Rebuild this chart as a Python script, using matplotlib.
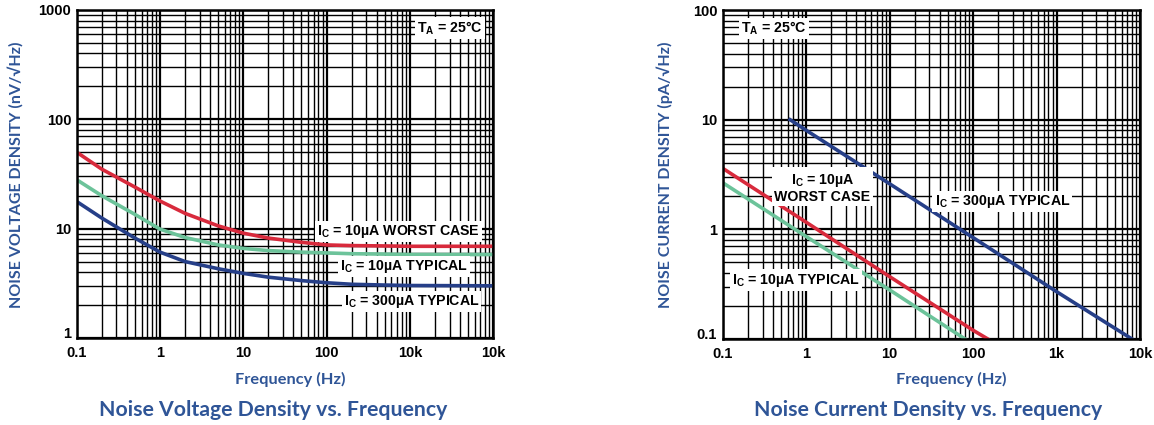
import matplotlib
matplotlib.use("Agg")
import matplotlib.pyplot as plt
import matplotlib.transforms as mtransforms
from matplotlib.ticker import FixedLocator, NullFormatter, LogLocator

plt.rcParams["mathtext.fontset"] = "custom"
plt.rcParams["mathtext.rm"] = "Liberation Sans:bold"
plt.rcParams["mathtext.it"] = "Liberation Sans:bold"
plt.rcParams["mathtext.bf"] = "Liberation Sans:bold"

# noise voltage density (nV/rtHz)
v_freq = [0.1, 0.2, 0.5, 1, 2, 5, 10, 20, 50, 100, 200, 500, 1000, 10000]
v_worst = [50, 35, 24, 17.9, 13.8, 10.6, 9.1, 8.2, 7.5, 7.1, 7.0, 6.95, 6.9, 6.9]
v_typ = [28, 20, 13.5, 9.9, 8.3, 7.1, 6.6, 6.3, 6.1, 6.0, 5.9, 5.85, 5.8, 5.8]
v_300 = [17.7, 12.5, 8.2, 6.1, 5.0, 4.3, 3.9, 3.6, 3.35, 3.2, 3.1, 3.05, 3.02, 3.0]

# noise current density (pA/rtHz)
i_freq_10 = [0.1, 1, 10, 100, 150]
i_worst = [3.6, 1.16, 0.37, 0.12, 0.1]
i_freq_typ = [0.1, 1, 10, 80]
i_typ = [2.66, 0.86, 0.28, 0.1]
i_freq_300 = [0.64, 1, 10, 100, 1000, 8000]
i_300 = [10, 8.0, 2.6, 0.84, 0.27, 0.1]

x_ticks = [0.1, 1, 10, 100, 1000, 10000]
x_labels_v = ["0.1", "1", "10", "100", "10k", "10k"]
x_labels_i = ["0.1", "1", "10", "100", "1k", "10k"]
y_ticks_v = [1, 10, 100, 1000]
y_labels_v = ["1", "10", "100", "1000"]
y_ticks_i = [0.1, 1, 10, 100]
y_labels_i = ["0.1", "1", "10", "100"]

RED = "#d82a3c"
GREEN = "#6cc39a"
BLUE = "#263f88"
TXT = "#2f5597"
tick_font = dict(family="Liberation Sans", weight="bold", size=10.5)
box = dict(facecolor="white", edgecolor="none", pad=1.5)


def setup(ax, ylim, yticks, ylabels, xlabels):
    ax.set_xscale("log")
    ax.set_yscale("log")
    ax.set_xlim(0.1, 10000)
    ax.set_ylim(*ylim)
    ax.xaxis.set_major_locator(FixedLocator(x_ticks))
    ax.yaxis.set_major_locator(FixedLocator(yticks))
    ax.xaxis.set_minor_locator(LogLocator(base=10, subs=range(2, 10), numticks=20))
    ax.yaxis.set_minor_locator(LogLocator(base=10, subs=range(2, 10), numticks=20))
    ax.xaxis.set_minor_formatter(NullFormatter())
    ax.yaxis.set_minor_formatter(NullFormatter())
    ax.set_xticklabels(xlabels, fontdict=tick_font)
    ax.set_yticklabels(ylabels, fontdict=tick_font)
    ax.tick_params(axis="x", which="both", length=0, pad=6)
    ax.tick_params(axis="y", which="both", length=0, pad=4)
    ax.grid(True, which="major", color="black", linewidth=1.6)
    ax.grid(True, which="minor", color="black", linewidth=1.0)
    for s in ax.spines.values():
        s.set_linewidth(1.8)
    ax.set_axisbelow(True)
    # bottom y label sits a little above the corner, as in the datasheet
    lbl = ax.get_yticklabels()[0]
    lbl.set_transform(lbl.get_transform()
                      + mtransforms.ScaledTranslation(0, 4 / 72, ax.figure.dpi_scale_trans))


fig = plt.figure(figsize=(11.54, 4.25), dpi=100)

ax1 = fig.add_axes([0.0665, 0.2047, 0.3608, 0.7718])
setup(ax1, (1, 1000), y_ticks_v, y_labels_v, x_labels_v)
ax1.plot(v_freq, v_worst, color=RED, linewidth=2.6)
ax1.plot(v_freq, v_typ, color=GREEN, linewidth=2.6)
ax1.plot(v_freq, v_300, color=BLUE, linewidth=2.6)

lab = dict(transform=ax1.transAxes, ha="center", va="center", fontsize=10.2,
           fontweight="bold", family="Liberation Sans", bbox=box)
ax1.text(0.897, 0.945, r"T$_{\rm A}$ = 25°C", **lab)
ax1.text(0.772, 0.324, r"I$_{\rm C}$ = 10µA WORST CASE", **lab)
ax1.text(0.786, 0.217, r"I$_{\rm C}$ = 10µA TYPICAL", **lab)
ax1.text(0.804, 0.111, r"I$_{\rm C}$ = 300µA TYPICAL", **lab)

ax2 = fig.add_axes([0.6263, 0.2024, 0.3616, 0.774])
setup(ax2, (0.1, 100), y_ticks_i, y_labels_i, x_labels_i)
ax2.plot(i_freq_10, i_worst, color=RED, linewidth=2.6)
ax2.plot(i_freq_typ, i_typ, color=GREEN, linewidth=2.6)
ax2.plot(i_freq_300, i_300, color=BLUE, linewidth=2.6)

lab["transform"] = ax2.transAxes
ax2.text(0.123, 0.944, r"T$_{\rm A}$ = 25°C", **lab)
ax2.text(0.239, 0.46, "I$_{\\rm C}$ = 10µA\nWORST CASE", linespacing=1.1, **lab)
ax2.text(0.67, 0.417, r"I$_{\rm C}$ = 300µA TYPICAL", **lab)
ax2.text(0.175, 0.179, r"I$_{\rm C}$ = 10µA TYPICAL", **lab)

blue_font = dict(family=["Lato", "DejaVu Sans"], weight="bold", color=TXT)
fig.text(0.0139, 0.59, "NOISE VOLTAGE DENSITY (nV/√Hz)", rotation=90,
         ha="center", va="center", fontsize=11.5, **blue_font)
fig.text(0.576, 0.59, "NOISE CURRENT DENSITY (pA/√Hz)", rotation=90,
         ha="center", va="center", fontsize=11.5, **blue_font)
fig.text(0.2513, 0.106, "Frequency (Hz)", ha="center", va="center",
         fontsize=11.8, **blue_font)
fig.text(0.8247, 0.106, "Frequency (Hz)", ha="center", va="center",
         fontsize=11.8, **blue_font)
fig.text(0.2366, 0.035, "Noise Voltage Density vs. Frequency", ha="center",
         va="center", fontsize=15.3, **blue_font)
fig.text(0.804, 0.035, "Noise Current Density vs. Frequency", ha="center",
         va="center", fontsize=15.3, **blue_font)

fig.savefig("out.png", dpi=100)
